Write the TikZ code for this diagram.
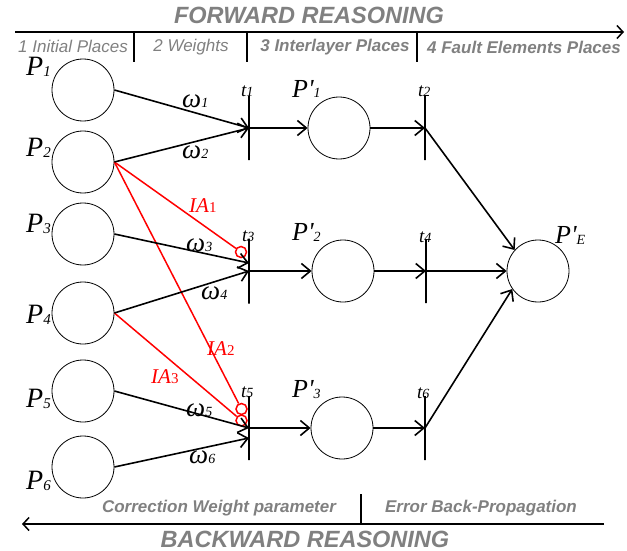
\documentclass[tikz,border=0pt]{standalone}
\usepackage{fontspec}
\setmainfont{Liberation Serif}
\newfontfamily\headfont{Liberation Sans}
\usetikzlibrary{positioning, arrows.meta}
\definecolor{headgray}{RGB}{128,128,128}

% place / transition / weight labels
\newcommand{\plab}[2]{{\fontsize{28}{28}\selectfont\itshape #1}\raisebox{-1pt}{\fontsize{15}{15}\selectfont\itshape #2}}
\newcommand{\pplab}[2]{{\fontsize{26}{26}\selectfont\itshape P\textquotesingle}\raisebox{-1pt}{\fontsize{14}{14}\selectfont\itshape #2}}
\newcommand{\tlab}[1]{{\fontsize{19}{19}\selectfont\itshape t}{\fontsize{14}{14}\selectfont\itshape #1}}
\newcommand{\wlab}[1]{{\fontsize{27}{27}\selectfont\itshape ω}{\fontsize{14}{14}\selectfont\itshape #1}}
\newcommand{\ialab}[1]{{\fontsize{21}{21}\selectfont\itshape IA}{\fontsize{15}{15}\selectfont #1}}

\begin{document}
\begin{tikzpicture}[
        x=1pt, y=-1pt,
        plc/.style={circle, draw, line width=0.8pt, minimum size=62pt, inner sep=0pt},
        trn/.style={draw, line width=2pt, minimum width=0pt, minimum height=64pt, inner sep=0pt, outer sep=0pt},
        flow/.style={draw, line width=1.6pt, -{Straight Barb[length=9pt,width=15pt]}},
        inhib/.style={draw=red, line width=1.5pt},
        inhring/.style={circle, draw=red, line width=1.5pt, minimum size=11pt, inner sep=0pt},
        lbl/.style={anchor=base west, inner sep=0pt},
        redlbl/.style={lbl, text=red},
        headlbl/.style={font=\headfont\itshape\fontsize{17}{17}\selectfont, text=headgray, inner sep=0pt},
        boldlbl/.style={headlbl, font=\headfont\bfseries\itshape\fontsize{17}{17}\selectfont},
        titlelbl/.style={headlbl, font=\headfont\bfseries\itshape\fontsize{23.5}{23.5}\selectfont},
        axis/.style={draw, line width=1.5pt},
        divider/.style={draw, line width=1.2pt}
    ]
        \useasboundingbox (0,0) rectangle (627,551);

        % Forward header
        \node[titlelbl] (fwd) at (309,15) {FORWARD REASONING};
        \coordinate (fwdL) at (15,32);
        \coordinate (fwdR) at (624,32);
        \path[axis, -{Straight Barb[length=6pt,width=13pt]}] (fwdL) -- (fwdR);
        \foreach \xx in {134,247,417}
            \path[divider] (\xx,32) -- (\xx,62);
        \node[headlbl] (h1) at (73,46) {1 Initial Places};
        \node[headlbl] (h2) at (191,47) {2 Weights};
        \node[boldlbl] (h3) at (335,47) {3 Interlayer Places};
        \node[boldlbl] (h4) at (524,47) {4 Fault Elements Places};

        % Places
        \node[plc] (p1) at (83,90) {};
        \node[plc] (p2) at (83,162) {};
        \node[plc] (p3) at (83,234) {};
        \node[plc] (p4) at (83,313) {};
        \node[plc] (p5) at (83,391) {};
        \node[plc] (p6) at (83,467) {};
        \node[plc] (pp1) at (339,128) {};
        \node[plc] (pp2) at (343,271) {};
        \node[plc] (pp3) at (342,428) {};
        \node[plc] (pe) at (538,271) {};

        % Transitions
        \node[trn] (t1) at (249,128) {};
        \node[trn, minimum height=65pt] (t3) at (249,271) {};
        \node[trn] (t5) at (249,428) {};
        \node[trn] (t2) at (425,128) {};
        \node[trn] (t4) at (426,271) {};
        \node[trn] (t6) at (425,428) {};

        % Inhibitor arcs
        \node[inhring] (ia1c) at (241,252) {};
        \node[inhring] (ia2c) at (241.5,409) {};
        \node[inhring] (ia3c) at (241.5,420.5) {};
        \path[inhib] (p2.east) -- (ia1c);
        \path[inhib] (p2.east) -- (ia2c);
        \path[inhib] (p4.east) -- (ia3c);

        % Arcs
        \path[flow] (p1.east) -- (t1.center);
        \path[flow] (p2.east) -- (t1.center);
        \path[flow] (p3.east) -- ([yshift=8pt]t3.center);
        \path[flow] (p4.east) -- (t3.center);
        \path[flow] (p5.east) -- (t5.center);
        \path[flow] (p6.east) -- ([yshift=-10pt]t5.center);
        \path[flow] (t1.center) -- (pp1);
        \path[flow] (t3.center) -- (pp2);
        \path[flow] (t5.center) -- (pp3);
        \path[flow] (pp1) -- (t2.center);
        \path[flow] (pp2) -- (t4.center);
        \path[flow] (pp3) -- (t6.center);
        \path[flow] (t2.center) -- (pe.138);
        \path[flow] (t4.center) -- (pe);
        \path[flow] (t6.center) -- (pe.215);

        % Labels
        \node[lbl] (lp1) at (26,76) {\plab{P}{1}};
        \node[lbl] (lp2) at (26,157) {\plab{P}{2}};
        \node[lbl] (lp3) at (26,232) {\plab{P}{3}};
        \node[lbl] (lp4) at (26,323) {\plab{P}{4}};
        \node[lbl] (lp5) at (26,407) {\plab{P}{5}};
        \node[lbl] (lp6) at (26,489) {\plab{P}{6}};
        \node[lbl] (lpp1) at (292,97) {\pplab{P}{1}};
        \node[lbl] (lpp2) at (292,240) {\pplab{P}{2}};
        \node[lbl] (lpp3) at (292,397) {\pplab{P}{3}};
        \node[lbl] (lpe) at (555,243) {\pplab{P}{E}};
        \node[lbl] (lt1) at (241,96) {\tlab{1}};
        \node[lbl] (lt2) at (418,96) {\tlab{2}};
        \node[lbl] (lt3) at (242,241) {\tlab{3}};
        \node[lbl] (lt4) at (419,242) {\tlab{4}};
        \node[lbl] (lt5) at (241,397) {\tlab{5}};
        \node[lbl] (lt6) at (417,398) {\tlab{6}};
        \node[lbl] (lw1) at (182,107) {\wlab{1}};
        \node[lbl] (lw2) at (182,158) {\wlab{2}};
        \node[lbl] (lw3) at (186,251) {\wlab{3}};
        \node[lbl] (lw4) at (201,299) {\wlab{4}};
        \node[lbl] (lw5) at (186,416) {\wlab{5}};
        \node[lbl] (lw6) at (189,463) {\wlab{6}};
        \node[redlbl] (lia1) at (189,212) {\ialab{1}};
        \node[redlbl] (lia2) at (207,355) {\ialab{2}};
        \node[redlbl] (lia3) at (151,383) {\ialab{3}};

        % Backward footer
        \node[boldlbl] (f1) at (219,508) {Correction Weight parameter};
        \node[boldlbl] (f2) at (481,508) {Error Back-Propagation};
        \path[divider] (361,494) -- (361,524);
        \coordinate (bwdL) at (22,524);
        \coordinate (bwdR) at (604,524);
        \path[axis, -{Straight Barb[length=6pt,width=13pt]}] (bwdR) -- (bwdL);
        \node[titlelbl] (bwd) at (305,539) {BACKWARD REASONING};
\end{tikzpicture}
\end{document}
